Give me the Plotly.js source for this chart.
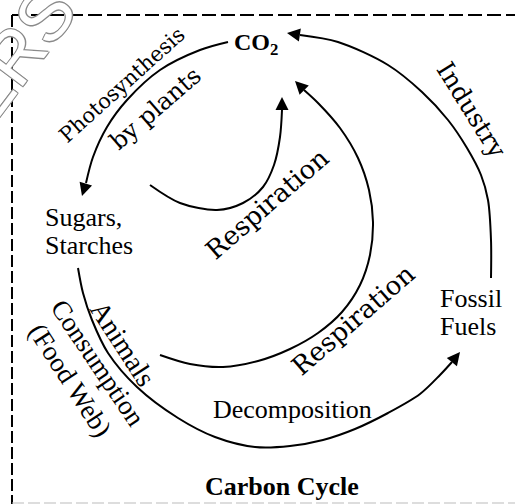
<!DOCTYPE html>
<html><head><meta charset="utf-8">
<script src="https://cdn.plot.ly/plotly-3.0.1.min.js"></script>
<style>html,body{margin:0;padding:0;background:#fff;}#chart{width:515px;height:504px;}</style>
</head><body><div id="chart"></div>
<script>
// Curve paths of the carbon cycle diagram (pixel space, y downward)
const photoX = [228, 200, 160, 127, 107, 93, 86];
const photoY = [42, 50, 70, 100, 127, 157, 183];
const industryX = [491, 491, 488, 481, 467, 448, 422, 388, 338, 300];
const industryY = [278, 240, 200, 175, 148, 120, 92, 65, 42, 35];
const outerRespX = [160, 190, 223, 258, 290, 318, 342, 360, 370, 373, 369, 358, 340, 318, 304];
const outerRespY = [355, 364, 367, 361, 349, 333, 312, 285, 255, 222, 190, 158, 128, 103, 90];
const innerRespX = [150, 180, 217, 243, 263, 274, 280, 282];
const innerRespY = [185, 203, 210, 203, 187, 165, 137, 110];
const foodX = [78, 83, 92, 108, 137, 178, 215, 255, 290, 323, 355, 388, 420, 440, 452];
const foodY = [268, 293, 320, 353, 387, 418, 437, 447, 446, 440, 429, 413, 394, 375, 362];
// arrow tips: [tipX, tipY, tailX, tailY]
const arrows = [[82, 196, 86, 183], [287, 33, 300, 35], [295, 81, 304, 90], [282, 97, 282, 110], [460, 352, 452, 362]];
// labels
const labels = [
  {t: 'CO<sub>2</sub>', x: 256, y: 44, a: 0, f: 'Liberation Serif', s: 24, b: true, xa: 'center'},
  {t: 'Sugars,', x: 43, y: 217, a: 0, f: 'Liberation Serif', s: 26, xa: 'left'},
  {t: 'Starches', x: 43, y: 245, a: 0, f: 'Liberation Serif', s: 26, xa: 'left'},
  {t: 'Fossil', x: 438, y: 298, a: 0, f: 'Liberation Serif', s: 26, xa: 'left'},
  {t: 'Fuels', x: 438, y: 326, a: 0, f: 'Liberation Serif', s: 26, xa: 'left'},
  {t: 'Decomposition', x: 292, y: 409, a: 0, f: 'Liberation Serif', s: 26, xa: 'center'},
  {t: 'Carbon Cycle', x: 282, y: 486, a: 0, f: 'Liberation Serif', s: 26, b: true, xa: 'center'},
  {t: 'Photosynthesis', x: 122, y: 85, a: -42, f: 'DejaVu Serif', s: 21, xa: 'center'},
  {t: 'by plants', x: 155, y: 109, a: -41, f: 'DejaVu Serif', s: 24, xa: 'center'},
  {t: 'Industry', x: 472, y: 110, a: 58, f: 'DejaVu Serif', s: 25, xa: 'center'},
  {t: 'Respiration', x: 267, y: 204, a: -41, f: 'DejaVu Serif', s: 26, xa: 'center'},
  {t: 'Respiration', x: 353, y: 320, a: -41, f: 'DejaVu Serif', s: 26, xa: 'center'},
  {t: 'Animals', x: 123, y: 343, a: 57, f: 'Liberation Serif', s: 28, xa: 'center'},
  {t: 'Consumption', x: 98, y: 363, a: 56, f: 'Liberation Serif', s: 27, xa: 'center'},
  {t: '(Food Web)', x: 70, y: 380, a: 57, f: 'Liberation Serif', s: 27, xa: 'center'}
];

const lineStyle = {color: '#000', width: 2, shape: 'spline', smoothing: 0.9};
const traces = [
  [photoX, photoY], [industryX, industryY], [outerRespX, outerRespY], [innerRespX, innerRespY], [foodX, foodY]
].map(p => ({x: p[0], y: p[1], mode: 'lines', line: lineStyle, hoverinfo: 'skip', showlegend: false}));

const annotations = [];
labels.forEach(l => {
  annotations.push({x: l.x, y: l.y, xref: 'x', yref: 'y', text: l.b ? '<b>' + l.t + '</b>' : l.t,
    showarrow: false, textangle: l.a, xanchor: l.xa, yanchor: 'middle',
    font: {family: l.f, size: l.s, color: '#000'}});
});
arrows.forEach(a => {
  annotations.push({x: a[0], y: a[1], ax: a[2], ay: a[3], xref: 'x', yref: 'y', axref: 'x', ayref: 'y',
    text: '', showarrow: true, arrowhead: 2, arrowsize: 1.3, arrowwidth: 2, arrowcolor: '#000', standoff: 0});
});
// watermark (partly off the page, as in the reference)
annotations.push({x: 15, y: 55, xref: 'x', yref: 'y', text: 'ERS', showarrow: false, textangle: -53,
  font: {family: 'Liberation Sans', size: 72, color: '#fff',
    shadow: '1px 1px 0 #8a8a8a, -1px -1px 0 #8a8a8a, 1px -1px 0 #8a8a8a, -1px 1px 0 #8a8a8a'}});

const shapes = [
  {type: 'line', xref: 'x', yref: 'y', x0: 12, y0: 15, x1: 515, y1: 15, line: {color: '#000', width: 2, dash: '14px,5px'}},
  {type: 'line', xref: 'x', yref: 'y', x0: 12, y0: 15, x1: 12, y1: 504, line: {color: '#000', width: 2, dash: '12px,4px'}},
  {type: 'line', xref: 'x', yref: 'y', x0: 12, y0: 503, x1: 515, y1: 503, line: {color: '#bbb', width: 1, dash: '12px,4px'}}
];

Plotly.newPlot('chart', traces, {
  width: 515, height: 504, margin: {l: 0, r: 0, t: 0, b: 0},
  paper_bgcolor: '#fff', plot_bgcolor: '#fff',
  xaxis: {range: [0, 515], visible: false, fixedrange: true},
  yaxis: {range: [504, 0], visible: false, fixedrange: true},
  annotations: annotations, shapes: shapes, showlegend: false
}, {staticPlot: true});
</script></body></html>
